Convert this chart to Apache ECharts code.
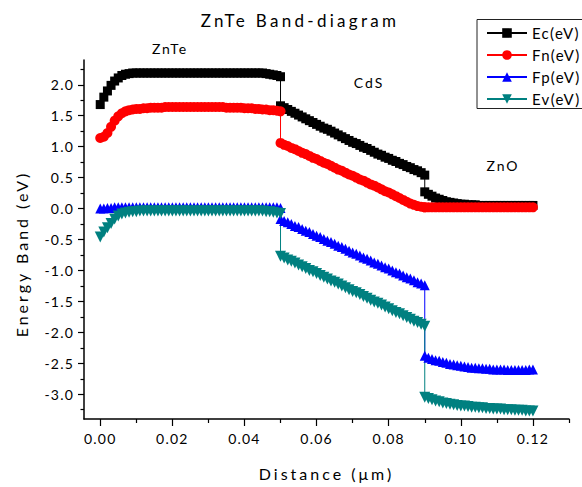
<!DOCTYPE html>
<html>
<head>
<meta charset="utf-8">
<script src="https://cdn.jsdelivr.net/npm/echarts@6/dist/echarts.min.js"></script>
<style>
html,body{margin:0;padding:0;background:#fff;}
#chart{width:582px;height:487px;}
</style>
</head>
<body>
<div id="chart"></div>
<script>
// x positions (µm); x is repeated at the layer interfaces 0.05 and 0.09
const xs = [
  0.000,0.001,0.002,0.003,0.004,0.005,0.006,0.007,0.008,0.009,
  0.010,0.011,0.012,0.013,0.014,0.015,0.016,0.017,0.018,0.019,
  0.020,0.021,0.022,0.023,0.024,0.025,0.026,0.027,0.028,0.029,
  0.030,0.031,0.032,0.033,0.034,0.035,0.036,0.037,0.038,0.039,
  0.040,0.041,0.042,0.043,0.044,0.045,0.046,0.047,0.048,0.049,
  0.050,
  0.050,0.051,0.052,0.053,0.054,0.055,0.056,0.057,0.058,0.059,
  0.060,0.061,0.062,0.063,0.064,0.065,0.066,0.067,0.068,0.069,
  0.070,0.071,0.072,0.073,0.074,0.075,0.076,0.077,0.078,0.079,
  0.080,0.081,0.082,0.083,0.084,0.085,0.086,0.087,0.088,0.089,
  0.090,
  0.090,0.091,0.092,0.093,0.094,0.095,0.096,0.097,0.098,0.099,
  0.100,0.101,0.102,0.103,0.104,0.105,0.106,0.107,0.108,0.109,
  0.110,0.111,0.112,0.113,0.114,0.115,0.116,0.117,0.118,0.119,
  0.120
];
const ec = [
  1.68,1.80,1.90,1.99,2.06,2.11,2.15,2.17,2.18,2.19,
  2.19,2.19,2.19,2.19,2.19,2.19,2.19,2.19,2.19,2.19,
  2.19,2.19,2.19,2.19,2.19,2.19,2.19,2.19,2.19,2.19,
  2.19,2.19,2.19,2.19,2.19,2.19,2.19,2.19,2.19,2.19,
  2.19,2.19,2.19,2.19,2.19,2.19,2.18,2.17,2.16,2.15,
  2.13,
  1.66,1.63,1.60,1.57,1.54,1.51,1.48,1.45,1.42,1.39,
  1.36,1.33,1.30,1.28,1.25,1.22,1.19,1.16,1.13,1.10,
  1.07,1.05,1.02,0.99,0.97,0.94,0.91,0.88,0.86,0.83,
  0.81,0.78,0.76,0.73,0.71,0.68,0.66,0.63,0.61,0.58,
  0.54,
  0.27,0.23,0.20,0.17,0.15,0.13,0.11,0.10,0.09,0.08,
  0.07,0.07,0.06,0.06,0.06,0.05,0.05,0.05,0.05,0.05,
  0.05,0.05,0.05,0.05,0.05,0.05,0.05,0.05,0.05,0.05,
  0.05
];
const fn = [
  1.14,1.16,1.22,1.32,1.42,1.49,1.54,1.57,1.59,1.60,
  1.61,1.61,1.62,1.62,1.63,1.63,1.63,1.63,1.64,1.64,
  1.64,1.64,1.64,1.64,1.64,1.64,1.64,1.64,1.64,1.64,
  1.64,1.64,1.64,1.64,1.64,1.63,1.63,1.63,1.63,1.63,
  1.62,1.62,1.62,1.61,1.61,1.60,1.60,1.59,1.59,1.58,
  1.57,
  1.06,1.03,1.01,0.98,0.96,0.93,0.90,0.88,0.85,0.82,
  0.80,0.77,0.74,0.72,0.69,0.66,0.63,0.61,0.58,0.55,
  0.53,0.50,0.47,0.45,0.42,0.39,0.37,0.34,0.31,0.28,
  0.26,0.23,0.20,0.17,0.14,0.11,0.08,0.06,0.04,0.03,
  0.02,
  0.02,0.02,0.02,0.02,0.02,0.02,0.02,0.02,0.02,0.02,
  0.02,0.02,0.02,0.02,0.02,0.02,0.02,0.02,0.02,0.02,
  0.02,0.02,0.02,0.02,0.02,0.02,0.02,0.02,0.02,0.02,
  0.02
];
const fp = [
  0.00,0.00,0.01,0.01,0.02,0.02,0.02,0.02,0.02,0.02,
  0.02,0.02,0.02,0.02,0.02,0.02,0.02,0.02,0.02,0.02,
  0.02,0.02,0.02,0.02,0.02,0.02,0.02,0.02,0.02,0.02,
  0.02,0.02,0.02,0.02,0.02,0.02,0.02,0.02,0.02,0.02,
  0.02,0.02,0.02,0.02,0.02,0.02,0.02,0.02,0.02,0.02,
  0.01,
  -0.17,-0.20,-0.22,-0.25,-0.28,-0.30,-0.33,-0.36,-0.38,-0.41,
  -0.44,-0.46,-0.49,-0.52,-0.54,-0.57,-0.60,-0.62,-0.65,-0.68,
  -0.71,-0.73,-0.76,-0.79,-0.81,-0.84,-0.87,-0.89,-0.92,-0.95,
  -0.97,-1.00,-1.03,-1.05,-1.08,-1.11,-1.13,-1.16,-1.19,-1.21,
  -1.24,
  -2.38,-2.41,-2.43,-2.45,-2.46,-2.48,-2.49,-2.51,-2.52,-2.53,
  -2.54,-2.55,-2.56,-2.57,-2.57,-2.58,-2.58,-2.59,-2.59,-2.60,
  -2.60,-2.60,-2.60,-2.61,-2.61,-2.61,-2.61,-2.61,-2.61,-2.60,
  -2.60
];
const ev = [
  -0.46,-0.38,-0.31,-0.24,-0.17,-0.12,-0.09,-0.07,-0.06,-0.05,
  -0.05,-0.04,-0.04,-0.04,-0.04,-0.04,-0.04,-0.04,-0.04,-0.04,
  -0.04,-0.04,-0.04,-0.04,-0.04,-0.04,-0.04,-0.04,-0.04,-0.04,
  -0.04,-0.04,-0.04,-0.04,-0.04,-0.04,-0.04,-0.04,-0.04,-0.04,
  -0.04,-0.04,-0.04,-0.04,-0.04,-0.04,-0.05,-0.05,-0.06,-0.07,
  -0.08,
  -0.77,-0.80,-0.83,-0.85,-0.88,-0.91,-0.94,-0.97,-1.00,-1.02,
  -1.05,-1.08,-1.11,-1.14,-1.17,-1.19,-1.22,-1.25,-1.28,-1.31,
  -1.34,-1.36,-1.39,-1.42,-1.45,-1.48,-1.51,-1.53,-1.56,-1.59,
  -1.62,-1.65,-1.68,-1.70,-1.73,-1.76,-1.79,-1.82,-1.84,-1.87,
  -1.90,
  -3.05,-3.07,-3.09,-3.11,-3.12,-3.14,-3.15,-3.16,-3.17,-3.18,
  -3.19,-3.19,-3.20,-3.21,-3.21,-3.22,-3.22,-3.23,-3.23,-3.24,
  -3.24,-3.24,-3.25,-3.25,-3.25,-3.26,-3.26,-3.26,-3.27,-3.27,
  -3.27
];
const seriesNames = ['Ec(eV)','Fn(eV)','Fp(eV)','Ev(eV)'];
const xMajor = [0,0.02,0.04,0.06,0.08,0.10,0.12];
const xMinor = [0.01,0.03,0.05,0.07,0.09,0.11,0.13];
const yMajor = [-3.0,-2.5,-2.0,-1.5,-1.0,-0.5,0.0,0.5,1.0,1.5,2.0];
const yMinor = [-3.25,-2.75,-2.25,-1.75,-1.25,-0.75,-0.25,0.25,0.75,1.25,1.75,2.25];
const titleText = 'ZnTe Band-diagram';
const xTitle = 'Distance (μm)';
const yTitle = 'Energy Band (eV)';
const regionLabels = ['ZnTe','CdS','ZnO'];

const FONT = 'Lato';
const pair = arr => xs.map((x,i)=>[x, arr[i]]);
const downTri = 'path://M0,0 L10,0 L5,10 Z';

const chart = echarts.init(document.getElementById('chart'), null, {renderer:'svg'});
const axisCommonX = {min:-0.0045, max:0.13, gridIndex:0};
const axisCommonY = {min:-3.4, max:2.4, gridIndex:0};

chart.setOption({
  animation:false,
  textStyle:{fontFamily:FONT, color:'#000'},
  grid:{left:84, right:13, top:60, bottom:68},
  legend:{
    orient:'vertical', left:477, top:19.5,
    padding:[6,90,2,9],
    borderColor:'#222', borderWidth:1,
    itemWidth:40, itemHeight:12, itemGap:7,
    selectedMode:false,
    textStyle:{fontFamily:FONT, fontSize:15, color:'#000'},
    data:seriesNames
  },
  xAxis:[
    Object.assign({type:'value', position:'bottom',
      name:xTitle, nameLocation:'middle', nameGap:46,
      nameTextStyle:{fontFamily:FONT, fontSize:16, color:'#000'},
      axisLine:{show:true, onZero:false, lineStyle:{color:'#000', width:1.5}},
      axisTick:{show:true, inside:false, length:7, customValues:xMajor, lineStyle:{color:'#000', width:1.2}},
      axisLabel:{show:true, customValues:xMajor, margin:12, fontSize:14, color:'#000', fontFamily:FONT,
        formatter:v=>Number(v).toFixed(2)},
      splitLine:{show:false}
    }, axisCommonX),
    Object.assign({type:'value', position:'bottom',
      axisLine:{show:false, onZero:false},
      axisTick:{show:true, inside:false, length:4, customValues:xMinor, lineStyle:{color:'#000', width:1.2}},
      axisLabel:{show:false},
      splitLine:{show:false}
    }, axisCommonX)
  ],
  yAxis:[
    Object.assign({type:'value', position:'left',
      axisLine:{show:true, onZero:false, lineStyle:{color:'#000', width:1.5}},
      axisTick:{show:true, inside:false, length:6, customValues:yMajor, lineStyle:{color:'#000', width:1.2}},
      axisLabel:{show:true, customValues:yMajor, margin:10, fontSize:14, color:'#000', fontFamily:FONT,
        formatter:v=>Number(v).toFixed(1)},
      splitLine:{show:false}
    }, axisCommonY),
    Object.assign({type:'value', position:'left',
      axisLine:{show:false, onZero:false},
      axisTick:{show:true, inside:false, length:3.5, customValues:yMinor, lineStyle:{color:'#000', width:1.2}},
      axisLabel:{show:false},
      splitLine:{show:false}
    }, axisCommonY)
  ],
  graphic:[
    {type:'text', x:300, y:20, style:{text:titleText, font:'17px '+FONT, fill:'#000', align:'center', verticalAlign:'middle'}},
    {type:'text', x:170, y:48, style:{text:regionLabels[0], font:'14px '+FONT, fill:'#000', align:'center', verticalAlign:'middle'}},
    {type:'text', x:369, y:82, style:{text:regionLabels[1], font:'14px '+FONT, fill:'#000', align:'center', verticalAlign:'middle'}},
    {type:'text', x:503, y:165, style:{text:regionLabels[2], font:'14px '+FONT, fill:'#000', align:'center', verticalAlign:'middle'}},
    {type:'text', x:21, y:254, rotation:Math.PI/2, style:{text:yTitle, font:'16px '+FONT, fill:'#000', align:'center', verticalAlign:'middle'}}
  ],
  series:[
    {name:seriesNames[0], type:'line', xAxisIndex:0, yAxisIndex:0, data:pair(ec),
     symbol:'rect', symbolSize:9, showAllSymbol:true, color:'#000000',
     lineStyle:{width:1, color:'#000000'}, itemStyle:{color:'#000000'}},
    {name:seriesNames[1], type:'line', xAxisIndex:0, yAxisIndex:0, data:pair(fn),
     symbol:'circle', symbolSize:10, showAllSymbol:true, color:'#ff0000',
     lineStyle:{width:1, color:'#ff0000'}, itemStyle:{color:'#ff0000'}},
    {name:seriesNames[2], type:'line', xAxisIndex:0, yAxisIndex:0, data:pair(fp),
     symbol:'triangle', symbolSize:10, showAllSymbol:true, color:'#0000ff',
     lineStyle:{width:1, color:'#0000ff'}, itemStyle:{color:'#0000ff'}},
    {name:seriesNames[3], type:'line', xAxisIndex:0, yAxisIndex:0, data:pair(ev),
     symbol:downTri, symbolSize:11, showAllSymbol:true, color:'#008080',
     lineStyle:{width:1, color:'#008080'}, itemStyle:{color:'#008080'}}
  ]
});

function applySpacing(){
  document.querySelectorAll('#chart text').forEach(t=>{
    const s = t.textContent;
    let ls = '1.2px';
    if (s === titleText) ls = '3.3px';
    else if (s === xTitle || s === yTitle) ls = '3px';
    else if (regionLabels.includes(s)) ls = '2px';
    else if (seriesNames.includes(s)) ls = '1.3px';
    t.style.letterSpacing = ls;
  });
}
chart.on('finished', applySpacing);
applySpacing();
setTimeout(applySpacing, 30);
</script>
</body>
</html>
